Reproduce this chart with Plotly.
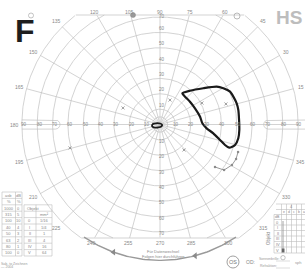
import numpy as np
import plotly.graph_objects as go

W, H = 305, 271
CX, CY, S = 160.0, 124.5, 1.535   # pixel centre of chart and px per degree

# ---------------- data (eccentricity in degrees, meridian in degrees) ----------------
ring_radii = [5, 10, 20, 30, 40, 50, 60, 70, 80, 90]
meridians = list(range(0, 360, 15))
meridian_labels = [str(a) for a in meridians]
scale_labels = ["10", "20", "30", "40", "50", "60", "70", "80", "90"]

isopter_r = [25.0, 29.4, 36.8, 44.4, 47.5, 50.4, 51.1, 51.8, 51.9, 51.6, 51.8, 51.8,
             50.7, 47.6, 44.4, 40.4, 35.2, 30.5, 27.6, 26.6, 25.1, 24.5, 24.4, 25.0]
isopter_theta = [54.4, 48.4, 39.9, 33.7, 29.8, 25.1, 20.8, 15.4, 10.5, 3.3, 356.0, 350.0,
                 344.7, 341.5, 342.5, 345.5, 350.6, 355.3, 1.6, 11.0, 24.8, 37.2, 48.0, 54.4]

central_r = [5.3, 4.6, 2.7, 0.65, 1.3, 1.6, 2.35, 4.4, 5.3]
central_theta = [191, 176, 163, 90, 0, 307, 236, 206, 191]

track_r = [53.9, 54.4, 53.8, 51.2, 45.3]
track_theta = [340.6, 335.6, 330.6, 324.6, 322.3]

marks_r = [17.2, 30.7, 45.0, 26.4, 22.8, 60.6]
marks_theta = [67.8, 27.1, 17.3, 155.9, 313.3, 194.6]

left_tab_c1 = ["asb", "%", "1000", "315", "100", "40", "50", "63", "80", "100"]
left_tab_c2 = ["dB", "%", "0", "5", "10", "4", "3", "2", "1", "0"]
left_tab_c3 = ["", "", "Objekt", "", "0", "I", "II", "III", "IV", "V"]
left_tab_c4 = ["", "", "", "mm²", "1/16", "1/4", "1", "4", "16", "64"]

right_rows = ["0", "I", "II", "III", "IV", "V"]
right_cols = ["e", "d", "c", "b", "a"]

# ---------------- helpers ----------------
def d2(px, py):
    return (px - CX) / S, (CY - py) / S

def polar_xy(r, th):
    r = np.asarray(r, float)
    th = np.radians(np.asarray(th, float))
    return r * np.cos(th), r * np.sin(th)

YTOP = (CY - 15) / S
YBOT = -(238 - CY) / S

def clipped(x, y):
    x = np.asarray(x, float); y = np.asarray(y, float)
    m = (y > YTOP + 1e-9) | (y < YBOT - 1e-9)
    xs = [None if mm else float(v) for v, mm in zip(x, m)]
    ys = [None if mm else float(v) for v, mm in zip(y, m)]
    return xs, ys

GRID = "#c0c0c0"
TXT = "#8a8a8a"
fig = go.Figure()

gx, gy = [], []
th = np.linspace(0, 360, 721)
for r in ring_radii:
    x, y = polar_xy(np.full_like(th, r), th)
    xs, ys = clipped(x, y)
    gx += xs + [None]; gy += ys + [None]
for a in meridians:
    rr = np.linspace(0, 90, 181)
    x, y = polar_xy(rr, np.full_like(rr, a))
    xs, ys = clipped(x, y)
    gx += xs + [None]; gy += ys + [None]
# top & bottom cut lines
for yy in (YTOP, YBOT):
    xx = np.sqrt(90 ** 2 - yy ** 2)
    gx += [-xx, xx, None]; gy += [yy, yy, None]
fig.add_trace(go.Scatter(x=gx, y=gy, mode="lines", line=dict(color=GRID, width=0.7),
                         hoverinfo="skip", showlegend=False))

# capsules on horizontal axis
def capsule(x_round, x_far, rad, side):
    t = np.linspace(-90, 90, 30) if side > 0 else np.linspace(90, 270, 30)
    cx = x_round - side * rad
    ax = list(cx + rad * np.cos(np.radians(t)))
    ay = list(rad * np.sin(np.radians(t)))
    if side > 0:
        xs = [x_far, cx] + ax[::-1] + [cx, x_far]
        ys = [rad, rad] + ay[::-1] + [-rad, -rad]
    else:
        xs = [x_far, cx] + ax + [cx, x_far]
        ys = [rad, rad] + ay + [-rad, -rad]
    return xs, ys

cx1, cy1 = capsule(d2(60, 0)[0], -90, 3.0, +1)
cx2, cy2 = capsule(d2(263.7, 0)[0], 100, 3.0, -1)
fig.add_trace(go.Scatter(x=cx1 + [None] + cx2, y=cy1 + [None] + cy2, mode="lines",
                         line=dict(color=GRID, width=0.7), hoverinfo="skip", showlegend=False))

# bottom arrow arc
ta = np.linspace(236, 304, 80)
ax_, ay_ = polar_xy(np.full_like(ta, 88.5), ta)
fig.add_trace(go.Scatter(x=ax_, y=ay_, mode="lines", line=dict(color="#9a9a9a", width=1.4),
                         hoverinfo="skip", showlegend=False))
ar_x, ar_y = polar_xy([88.5, 88.5], [250, 285])
fig.add_trace(go.Scatter(x=ar_x, y=ar_y, mode="markers",
                         marker=dict(symbol=["triangle-left", "triangle-left"], size=6, color="#8a8a8a"),
                         hoverinfo="skip", showlegend=False))

# test marks
mx, my = polar_xy(marks_r, marks_theta)
fig.add_trace(go.Scatter(x=mx, y=my, mode="markers",
                         marker=dict(symbol="x-thin", size=3, line=dict(color="#888", width=0.8)),
                         hoverinfo="skip", showlegend=False))

# grey track
tx, ty = polar_xy(track_r, track_theta)
fig.add_trace(go.Scatter(x=tx, y=ty, mode="lines+markers", line=dict(color="#8c8c8c", width=0.9),
                         marker=dict(size=2.5, color="#8c8c8c"), hoverinfo="skip", showlegend=False))

# isopter
ix, iy = polar_xy(isopter_r, isopter_theta)
fig.add_trace(go.Scatter(x=ix, y=iy, mode="lines", line=dict(color="#1a1a1a", width=2.2, shape="spline", smoothing=0.6),
                         hoverinfo="skip", showlegend=False))
# central island
lx, ly = polar_xy(central_r, central_theta)
fig.add_trace(go.Scatter(x=lx, y=ly, mode="lines", line=dict(color="#1a1a1a", width=1.8, shape="spline", smoothing=1.0),
                         hoverinfo="skip", showlegend=False))

anns = []
def ann(px, py, text, size=5, color=TXT, bold=False, angle=0, family="Liberation Sans"):
    x, y = d2(px, py)
    anns.append(dict(x=x, y=y, xref="x", yref="y", text=("<b>%s</b>" % text) if bold else text,
                     showarrow=False, textangle=angle,
                     font=dict(size=size, color=color, family=family), xanchor="center", yanchor="middle"))

# meridian labels around the field
ytop_lab = (CY - 11.5) / S
ybot_lab = -(243 - CY) / S
for a, t in zip(meridians, meridian_labels):
    x, y = polar_xy(95, a)
    x = float(x); y = float(y)
    if y > ytop_lab:
        x = ytop_lab / np.tan(np.radians(a)); y = ytop_lab
    if y < ybot_lab:
        x = ybot_lab / np.tan(np.radians(a)); y = ybot_lab
    anns.append(dict(x=x, y=y, xref="x", yref="y", text=t, showarrow=False,
                     font=dict(size=5, color=TXT, family="Liberation Sans")))

# scale numbers along axes
for i, t in enumerate(scale_labels):
    v = 10 * (i + 1)
    anns.append(dict(x=-(v - 1.5), y=0, xref="x", yref="y", text=t, showarrow=False,
                     font=dict(size=4.5, color=TXT, family="Liberation Sans")))
    anns.append(dict(x=(v + 0.5), y=0, xref="x", yref="y", text=t, showarrow=False,
                     font=dict(size=4.5, color=TXT, family="Liberation Sans")))
    if v <= 70:
        anns.append(dict(x=1, y=v + (0.3 if v == 70 else 2.5), xref="x", yref="y", text=t, showarrow=False,
                         font=dict(size=4.5, color=TXT, family="Liberation Sans")))
        anns.append(dict(x=1, y=-(v + 1), xref="x", yref="y", text=t, showarrow=False,
                         font=dict(size=4.5, color=TXT, family="Liberation Sans")))

# big letter
ann(24.5, 30.5, "F", size=32, color="#1e1e1e", bold=True)
# logo
ann(289, 17, "HS", size=19, color="#bdbdbd", bold=True)

# bottom texts
ann(163, 251.5, "Für Datenwechsel", size=4, color="#888")
ann(163, 256, "Folgen hier durchführen", size=4, color="#888")
ann(14, 263.5, "Sab. to Zeichnen", size=3.5, color="#999")
ann(7, 267, "— 2004", size=3.5, color="#999")
ann(233, 262, "OS", size=5.5, color="#777")
ann(250, 262, "OD:", size=5, color="#888")
ann(269, 258.5, "Sonnenbrille:", size=3.5, color="#999")
ann(268, 265.5, "Refraktion:", size=3.5, color="#999")
ann(298, 262.5, "sph", size=4, color="#999")
ann(268, 238, "Objekt", size=4.5, color="#888", angle=-90)

shapes = []
def line(p1, p2, color=GRID, width=0.6):
    x0, y0 = d2(*p1); x1, y1 = d2(*p2)
    shapes.append(dict(type="line", x0=x0, y0=y0, x1=x1, y1=y1, xref="x", yref="y",
                       line=dict(color=color, width=width)))

def circ(pc, rad, color="#888", width=0.7):
    x0, y0 = d2(pc[0] - rad, pc[1] + rad); x1, y1 = d2(pc[0] + rad, pc[1] - rad)
    shapes.append(dict(type="circle", x0=x0, y0=y0, x1=x1, y1=y1, xref="x", yref="y",
                       line=dict(color=color, width=width)))

circ((233, 262), 6, "#888", 0.8)
circ((283, 257.7), 2.2, "#999", 0.6)
circ((31, 15.5), 2.5, "#aaa", 0.7)
circ((237, 16), 3, "#aaa", 0.8)
x0, y0 = d2(130.5, 12.5); x1, y1 = d2(135.5, 17.5)
shapes.append(dict(type="circle", x0=x0, y0=y0, x1=x1, y1=y1, xref="x", yref="y",
                   fillcolor="#999", line=dict(color="#888", width=0.5)))
line((276, 261), (290, 261), "#bbb", 0.5)
line((276, 268), (290, 268), "#bbb", 0.5)

# left table
TL = "#bdbdbd"
rows_y = [192 + 6.4 * i for i in range(11)]
for i, yv in enumerate(rows_y):
    line((2, yv), (22, yv), TL)
    if i >= 2:
        line((24, yv), (52, yv), TL)
for xv in (2, 15.5, 22):
    line((xv, 192), (xv, 256), TL)
for xv in (24, 36, 52):
    line((xv, rows_y[2]), (xv, 256), TL)
for i in range(10):
    yc = rows_y[i] + 3.2
    ann(8.7, yc, left_tab_c1[i], size=4, color="#888")
    ann(18.8, yc, left_tab_c2[i], size=4, color="#888")
    if left_tab_c3[i] and left_tab_c3[i] != "Objekt":
        ann(29.5, yc, left_tab_c3[i], size=4, color="#888")
    if left_tab_c4[i]:
        ann(44, yc, left_tab_c4[i], size=4, color="#888")
ann(33, rows_y[2] + 3.2, "Objekt", size=4, color="#888")

# right table
rt_y = [204, 209.5, 214.5, 219.5, 225, 230.5, 236, 241.5, 247, 253]
rt_x = [274, 281.5, 286.5, 291.5, 296.5, 301.5, 306]
for i, yv in enumerate(rt_y):
    line((276 if i < 2 else 274, yv), (306, yv), TL)
for j, xv in enumerate(rt_x):
    line((xv, rt_y[0] if j > 0 else rt_y[2]), (xv, rt_y[-1]), TL)
ann(291, 206.8, "4", size=4, color="#888")
for j, c in enumerate(right_cols):
    ann((rt_x[j + 1] + rt_x[j + 2]) / 2 if j + 2 < len(rt_x) else 303.5, 212, c, size=3.5, color="#888")
ann(277.8, 217, "dB", size=3.5, color="#888")
for i, rlab in enumerate(right_rows):
    ann(277.8, (rt_y[i + 3] + rt_y[i + 4]) / 2, rlab, size=4, color="#888")
line((283, 221), (283, 252), "#999", 0.9)
x0, y0 = d2(281.8, 248.5); x1, y1 = d2(284.5, 252.5)
shapes.append(dict(type="rect", x0=x0, y0=y0, x1=x1, y1=y1, xref="x", yref="y",
                   fillcolor="#666", line=dict(width=0)))

xr = [(0 - CX) / S, (W - CX) / S]
yr = [(CY - H) / S, CY / S]
fig.update_layout(
    width=W, height=H, margin=dict(l=0, r=0, t=0, b=0),
    paper_bgcolor="white", plot_bgcolor="white",
    xaxis=dict(range=xr, visible=False, fixedrange=True),
    yaxis=dict(range=yr, visible=False, fixedrange=True),
    annotations=anns, shapes=shapes, showlegend=False,
)
fig.write_html("out.html", config={"displayModeBar": False},
               post_script="document.body.style.margin='0';document.body.style.overflow='hidden';")
